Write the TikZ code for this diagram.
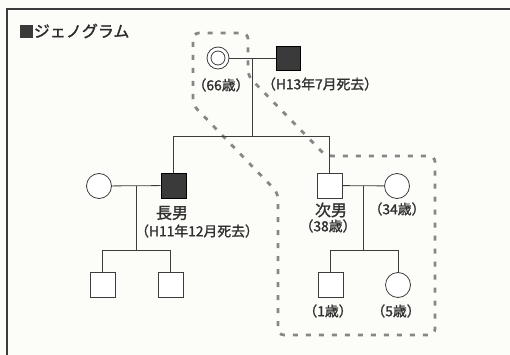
\documentclass[tikz,border=0pt]{standalone}
\usepackage{fontspec}
\newfontfamily\jp[FakeBold=1.4]{Noto Sans CJK JP}
\definecolor{bg}{RGB}{252,252,248}
\definecolor{ink}{RGB}{60,60,60}
\definecolor{fillk}{RGB}{58,58,58}
\definecolor{dashc}{RGB}{135,135,135}
\begin{document}
\begin{tikzpicture}[x=1pt,y=-1pt,
  line width=0.8pt,
  male/.style={draw=ink,rectangle,minimum size=25pt,inner sep=0pt,fill=white},
  dead/.style={draw=black,rectangle,minimum size=25pt,inner sep=0pt,fill=fillk},
  female/.style={draw=ink,circle,minimum size=25pt,inner sep=0pt,fill=white},
  lbl/.style={font=\jp\fontsize{13.8}{13.8}\selectfont,inner sep=0pt,text=ink!80!black},
  biglbl/.style={font=\jp\fontsize{16}{16}\selectfont,inner sep=0pt,text=ink!80!black},
  link/.style={draw=ink,line width=0.8pt},
  boundary/.style={draw=dashc,line width=2.8pt,dash pattern=on 5pt off 8pt,rounded corners=6pt}]
\fill[bg] (0,0) rectangle (510,355);
\useasboundingbox (0,0) rectangle (510,355);
% frame
\coordinate (fa) at (7,355);
\coordinate (fb) at (7,9);
\coordinate (fc) at (510,9);
\draw[draw=ink,line width=1.2pt] (fa) -- (fb) -- (fc);
% title
\node[fill=fillk,minimum size=13pt,inner sep=0pt] (tsq) at (26.5,31.5) {};
\node[anchor=west,inner sep=0pt,font=\jp\fontsize{16}{16}\selectfont,text=ink!70!black] (title) at (33.5,31) {ジェノグラム};
% boundary
\coordinate (p1) at (193,33);
\coordinate (p2) at (248,33);
\coordinate (p3) at (248,76);
\coordinate (p4) at (326,156);
\coordinate (p5) at (435,156);
\coordinate (p6) at (435,335);
\coordinate (p7) at (278,335);
\coordinate (p8) at (278,193);
\coordinate (p9) at (193,105);
\draw[boundary] (p9) -- (p1) -- (p2) -- (p3) -- (p4) -- (p5) -- (p6) -- (p7) -- (p8) -- cycle;
% generation 1
\node[female,minimum size=22pt] (gm) at (218,58) {};
\node[draw=ink,circle,minimum size=14pt,inner sep=0pt] (gmin) at (218,58) {};
\node[dead,minimum size=24pt] (gf) at (288,58) {};
\draw[link] (gm) -- (gf);
\coordinate (m1) at (252,58);
\coordinate (s1) at (252,136);
\node[lbl] (l66) at (221,85) {（66歳）};
\node[lbl] (lgf) at (320,84) {（H13年7月死去）};
% generation 2
\node[dead] (son1) at (173.5,185.5) {};
\node[male] (son2) at (329.5,185.5) {};
\node[female] (w1) at (99,186) {};
\node[female] (w2) at (397,186) {};
\draw[link] (m1) -- (s1);
\draw[link] (s1) -| (son1.north);
\draw[link] (s1) -| (son2.north);
\draw[link] (w1) -- (son1);
\draw[link] (son2) -- (w2);
\node[biglbl] (l1) at (172,213) {長男};
\node[lbl] (l1d) at (197,231) {（H11年12月死去）};
\node[biglbl] (l2) at (331,210) {次男};
\node[lbl] (l38) at (328,226) {（38歳）};
\node[lbl] (l34) at (397,209) {（34歳）};
% generation 3 left
\coordinate (m2) at (136,186);
\coordinate (c2) at (136,250);
\node[male] (g1) at (102.5,284.5) {};
\node[male] (g2) at (170.5,284.5) {};
\draw[link] (m2) -- (c2);
\draw[link] (c2) -| (g1.north);
\draw[link] (c2) -| (g2.north);
% generation 3 right
\coordinate (m3) at (363,186);
\coordinate (c3) at (363,250);
\node[male] (g3) at (330.5,285) {};
\node[female] (g4) at (398,285) {};
\draw[link] (m3) -- (c3);
\draw[link] (c3) -| (g3.north);
\draw[link] (c3) -| (g4.north);
\node[lbl] (l1y) at (328,311) {（1歳）};
\node[lbl] (l5y) at (396,311) {（5歳）};
\end{tikzpicture}
\end{document}
